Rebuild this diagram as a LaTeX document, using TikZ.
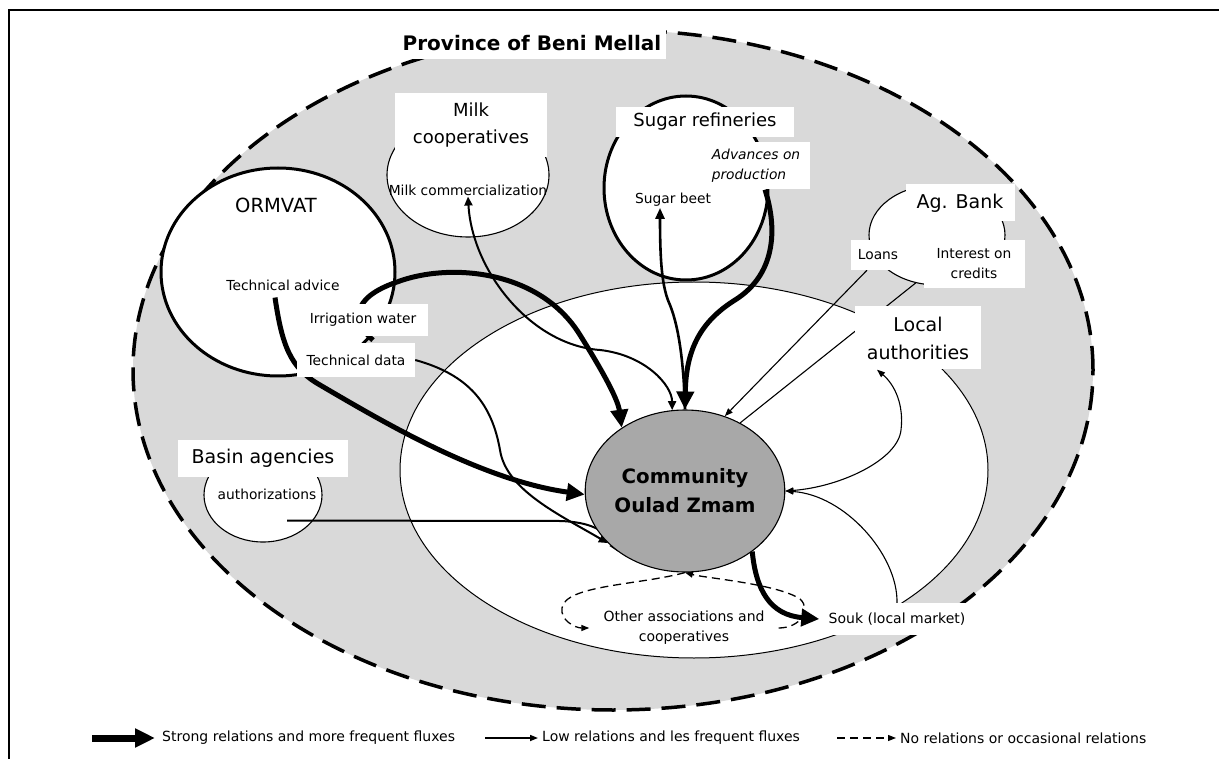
\documentclass[tikz,border=0pt]{standalone}
\usepackage{fontspec}
\setmainfont{DejaVu Sans}
\usetikzlibrary{arrows.meta,shapes.geometric}
\definecolor{Zone}{HTML}{D9D9D9}
\definecolor{Core}{HTML}{A8A8A8}
\pgfdeclarelayer{back}
\pgfdeclarelayer{flow}
\pgfsetlayers{back,flow,main}
\tikzset{
  actor/.style={draw,ellipse,fill=white,inner sep=0pt},
  bigactor/.style={actor,line width=3pt},
  smallactor/.style={actor,line width=1.1pt},
  namebox/.style={fill=white,align=center,inner sep=0pt,font=\fontsize{19}{28}\selectfont},
  itembox/.style={fill=white,align=center,inner sep=0pt,font=\fontsize{13.8}{20}\selectfont},
  item/.style={align=center,inner sep=1pt,font=\fontsize{13.8}{20}\selectfont},
  legendtext/.style={anchor=west,inner sep=0pt,font=\fontsize{14}{16}\selectfont},
  strong/.style={line width=5pt,-{Triangle[length=18pt,width=17pt]}},
  medium/.style={line width=2pt,-{Triangle[length=9pt,width=8pt]}},
  weak/.style={line width=1.1pt,-{Triangle[length=8pt,width=6pt]}},
  occasional/.style={line width=1.3pt,dash pattern=on 8pt off 5pt,-{Triangle[length=8pt,width=6pt]}}
}
\begin{document}
\begin{tikzpicture}[x=1pt,y=-1pt]
  \useasboundingbox (0,0) rectangle (1219,759);
  \draw[line width=2.2pt] (9,759) -- (9,10) -- (1219,10);

  % areas and actors
  \begin{pgfonlayer}{back}
    \node[draw,ellipse,fill=Zone,line width=3.5pt,dash pattern=on 24pt off 11pt,minimum width=960pt,minimum height=680pt,inner sep=0pt] (prov) at (613,370) {};
    \node[draw,ellipse,fill=white,line width=1pt,minimum width=588pt,minimum height=376pt,inner sep=0pt] (territory) at (694,470) {};
    \node[bigactor,minimum width=234pt,minimum height=208pt] (ormvat) at (278,272) {};
    \node[smallactor,minimum width=162pt,minimum height=124pt] (milkc) at (468,175) {};
    \node[bigactor,minimum width=164pt,minimum height=184pt] (sugarc) at (686,188) {};
    \node[smallactor,minimum width=136pt,minimum height=100pt] (bankc) at (937,235) {};
    \node[smallactor,minimum width=118pt,minimum height=94pt] (basinc) at (263,495) {};
  \end{pgfonlayer}

  \node[draw,ellipse,fill=Core,line width=1.1pt,minimum width=184pt,minimum height=162pt,inner sep=0pt,align=center,font=\fontsize{19.8}{29}\selectfont\bfseries] (comm) at (685,491) {Community\\Oulad Zmam};

  % labels
  \node[namebox,minimum width=268pt,minimum height=33pt,font=\fontsize{20}{24}\selectfont\bfseries] (title) at (532,43) {Province of Beni Mellal};
  \node[item,font=\fontsize{19.5}{24}\selectfont] (ormvatname) at (276,205) {ORMVAT};
  \node[item] (advice) at (283,285) {Technical advice};
  \node[itembox,minimum width=130pt,minimum height=32pt] (irrig) at (363,320) {Irrigation water};
  \node[itembox,minimum width=118pt,minimum height=34pt] (techdata) at (356,360) {Technical data};
  \node[namebox,minimum width=152pt,minimum height=64pt,font=\fontsize{18}{27}\selectfont] (milk) at (471,125) {Milk\\cooperatives};
  \node[item] (milkcom) at (468,190) {Milk commercialization};
  \node[namebox,minimum width=178pt,minimum height=30pt,font=\fontsize{18}{24}\selectfont] (sugar) at (705,122) {Sugar refineries};
  \node[itembox,minimum width=107pt,minimum height=47pt,align=left,font=\fontsize{13.8}{20}\selectfont\itshape] (advances) at (756,166) {Advances on\\production};
  \node[item] (beet) at (673,200) {Sugar beet};
  \node[namebox,minimum width=109pt,minimum height=37pt] (bank) at (960,203) {Ag. Bank};
  \node[itembox,minimum width=55pt,minimum height=30pt] (loans) at (878,255) {Loans};
  \node[itembox,minimum width=101pt,minimum height=48pt] (interest) at (974,264) {Interest on\\credits};
  \node[namebox,minimum width=126pt,minimum height=63pt] (localauth) at (918,338) {Local\\authorities};
  \node[namebox,minimum width=170pt,minimum height=37pt] (basin) at (263,458) {Basin agencies};
  \node[item] (authz) at (267,494) {authorizations};
  \node[itembox,minimum width=155pt,minimum height=32pt,font=\fontsize{14}{20}\selectfont] (souk) at (897,619) {Souk (local market)};
  \node[item,inner xsep=14pt,font=\fontsize{14}{20}\selectfont] (other) at (684,628) {Other associations and\\cooperatives};

  % flows
  \begin{pgfonlayer}{flow}
    \draw[strong] ([xshift=10pt,yshift=-4pt]irrig.south) .. controls (352,322) and (350,298) .. (397,282) .. controls (450,262) and (540,270) .. (580,335) .. controls (605,375) and (618,400) .. (comm.135);
    \draw[strong] ([xshift=-8pt,yshift=-6pt]advice.south) .. controls (282,345) and (290,368) .. (320,385) .. controls (380,420) and (480,480) .. (comm.182);
    \draw[medium] (techdata.east) .. controls (470,375) and (492,405) .. (500,450) .. controls (506,490) and (560,515) .. (comm.214);
    \draw[medium,{Triangle[length=9pt,width=8pt]}-{Triangle[length=9pt,width=8pt]}] (milkcom.south) .. controls (472,270) and (530,345) .. (600,350) .. controls (645,355) and (672,385) .. (comm.99);
    \draw[line width=2.6pt,-{Triangle[length=11pt,width=9pt]}] (comm.north) .. controls (684,370) and (680,330) .. (670,305) .. controls (662,288) and (660,262) .. ([xshift=-13pt]beet.south);
    \draw[strong] ([xshift=9pt]advances.south) .. controls (778,230) and (775,275) .. (735,300) .. controls (700,322) and (686,350) .. (comm.north);
    \draw[weak] ([xshift=-11pt]loans.south) -- (comm.62);
    \draw[weak,-] (bankc.246) -- (comm.51);
    \draw[weak,{Triangle[length=8pt,width=6pt]}-{Triangle[length=8pt,width=6pt]}] ([xshift=-41pt]localauth.south) .. controls (895,385) and (904,405) .. (901,430) .. controls (898,460) and (840,487) .. (comm.east);
    \draw[weak] (souk.north) .. controls (898,555) and (845,495) .. (comm.east);
    \draw[strong] (comm.318) .. controls (756,590) and (770,615) .. (souk.west);
    \draw[medium] ([xshift=20pt,yshift=-20pt]authz.south) -- (560,521) .. controls (590,522) and (605,530) .. (comm.222);
    \draw[occasional] (comm.south) .. controls (640,585) and (565,585) .. (562,608) .. controls (560,620) and (575,628) .. (other.west);
    \draw[occasional] (other.east) .. controls (800,628) and (812,610) .. (800,599) .. controls (778,584) and (705,578) .. (comm.south);
  \end{pgfonlayer}

  % legend
  \node[legendtext] (lgstrong) at (162,738) {Strong relations and more frequent fluxes};
  \node[legendtext] (lglow) at (542,738) {Low relations and les frequent fluxes};
  \node[legendtext] (lgnone) at (900,738) {No relations or occasional relations};
  \coordinate (lgs) at (92,738);
  \coordinate (lgl) at (485,738);
  \coordinate (lgn) at (837,738);
  \draw[line width=7pt,-{Triangle[length=20pt,width=18pt]}] (lgs) -- ([xshift=-7pt]lgstrong.west);
  \draw[weak,line width=1.6pt] (lgl) -- ([xshift=-4pt]lglow.west);
  \draw[occasional] (lgn) -- ([xshift=-4pt]lgnone.west);
\end{tikzpicture}
\end{document}
